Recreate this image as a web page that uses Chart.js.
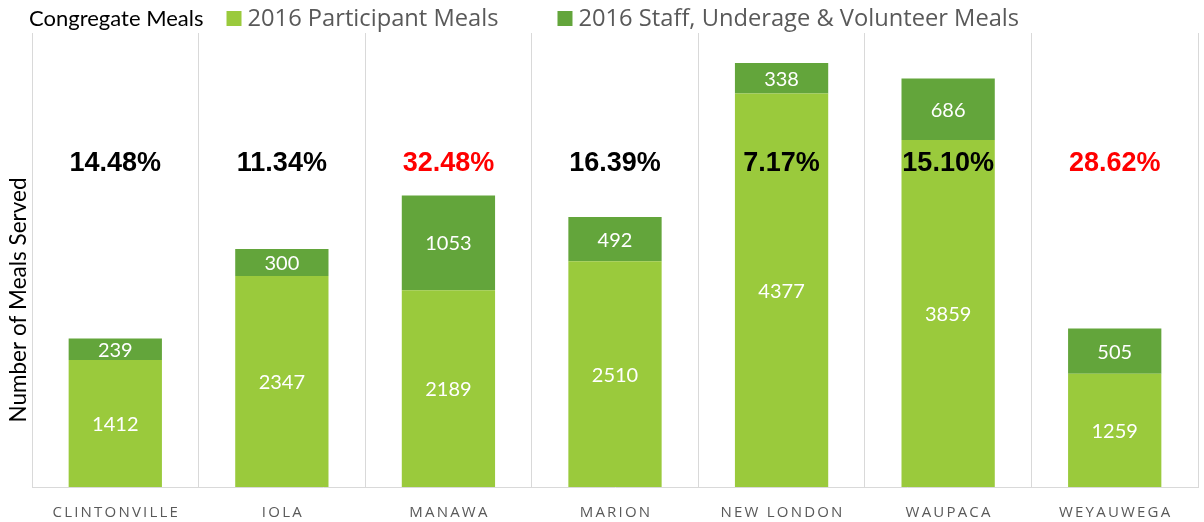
<!DOCTYPE html>
<html>
<head>
<meta charset="utf-8">
<script src="https://cdn.jsdelivr.net/npm/chart.js@4"></script>
<style>
  html, body { margin: 0; padding: 0; background: #fff; }
  #wrap { width: 1204px; height: 522px; position: relative; }
</style>
</head>
<body>
<div id="wrap"><canvas id="mealsChart"></canvas></div>
<script>
// Chart data
const categories = ["CLINTONVILLE", "IOLA", "MANAWA", "MARION", "NEW LONDON", "WAUPACA", "WEYAUWEGA"];
const participantMeals = [1412, 2347, 2189, 2510, 4377, 3859, 1259];
const staffMeals = [239, 300, 1053, 492, 338, 686, 505];
const percentLabels = ["14.48%", "11.34%", "32.48%", "16.39%", "7.17%", "15.10%", "28.62%"];
const percentColors = ["#000000", "#000000", "#ff0000", "#000000", "#000000", "#000000", "#ff0000"];
const seriesNames = ["2016 Participant Meals", "2016 Staff, Underage & Volunteer Meals"];
const chartTitle = "Congregate Meals";
const yTitle = "Number of Meals Served";

const LIGHT_GREEN = "#9aca3c";
const DARK_GREEN = "#63a53b";

/**
 * Draws the header line, axis title, value labels, percentages and x labels.
 */
const annotatePlugin = {
  id: "annotate",
  afterDatasetsDraw(chart) {
    const ctx = chart.ctx;
    const area = chart.chartArea;
    const xScale = chart.scales.x;
    const yScale = chart.scales.y;
    ctx.save();

    // values inside each segment
    ctx.fillStyle = "#ffffff";
    ctx.font = "20px Lato";
    ctx.textAlign = "center";
    ctx.textBaseline = "middle";
    chart.data.datasets.forEach((ds, di) => {
      const meta = chart.getDatasetMeta(di);
      meta.data.forEach((bar, i) => {
        ctx.fillText(String(ds.data[i]), bar.x, (bar.y + bar.base) / 2 + 1);
      });
    });

    // percentage labels
    ctx.font = "bold 27px 'Liberation Sans', Arial";
    const py = yScale.getPixelForValue(3600);
    percentLabels.forEach((txt, i) => {
      ctx.fillStyle = percentColors[i];
      ctx.fillText(txt, xScale.getPixelForValue(i), py);
    });

    // category labels with letter spacing
    ctx.fillStyle = "#595959";
    ctx.font = "15px 'Open Sans'";
    ctx.letterSpacing = "2.2px";
    categories.forEach((c, i) => {
      ctx.fillText(c, xScale.getPixelForValue(i) + 1, area.bottom + 26);
    });
    ctx.letterSpacing = "0px";

    // y axis title
    ctx.save();
    ctx.translate(19, 300);
    ctx.rotate(-Math.PI / 2);
    ctx.fillStyle = "#000000";
    ctx.font = "22.5px Lato";
    ctx.fillText(yTitle, 0, 0);
    ctx.restore();

    // header: title + legend
    ctx.textAlign = "left";
    ctx.fillStyle = "#000000";
    ctx.font = "22px Lato";
    let x = 29;
    const hy = 19;
    ctx.fillText(chartTitle, x, hy);
    x += ctx.measureText(chartTitle).width + 23;
    ctx.font = "23.7px 'Open Sans'";
    const gaps = [59, 0];
    seriesNames.forEach((name, i) => {
      ctx.fillStyle = chart.data.datasets[i].backgroundColor;
      ctx.fillRect(x, hy - 8, 15, 15);
      x += 21;
      ctx.fillStyle = "#595959";
      ctx.fillText(name, x, hy);
      x += ctx.measureText(name).width + gaps[i];
    });

    ctx.restore();
  }
};

function buildChart() {
  const ctx = document.getElementById("mealsChart").getContext("2d");
  return new Chart(ctx, {
    type: "bar",
    data: {
      labels: categories,
      datasets: [
        {
          label: seriesNames[0],
          data: participantMeals,
          backgroundColor: LIGHT_GREEN,
          borderWidth: 0,
        },
        {
          label: seriesNames[1],
          data: staffMeals,
          backgroundColor: DARK_GREEN,
          borderWidth: 0,
        },
      ],
    },
    options: {
      responsive: true,
      maintainAspectRatio: false,
      animation: false,
      layout: { padding: { left: 32, right: 6, top: 33, bottom: 35 } },
      datasets: {
        bar: { categoryPercentage: 1.0, barPercentage: 0.56 },
      },
      plugins: {
        legend: { display: false },
        tooltip: { enabled: false },
      },
      scales: {
        x: {
          stacked: true,
          offset: true,
          grid: {
            offset: true,
            color: "#d9d9d9",
            drawTicks: false,
          },
          border: { color: "#d9d9d9" },
          ticks: { display: false },
        },
        y: {
          stacked: true,
          display: false,
          min: 0,
          max: 5050,
        },
      },
    },
    plugins: [annotatePlugin],
  });
}

window.onload = function () {
  buildChart();
};
</script>
</body>
</html>
